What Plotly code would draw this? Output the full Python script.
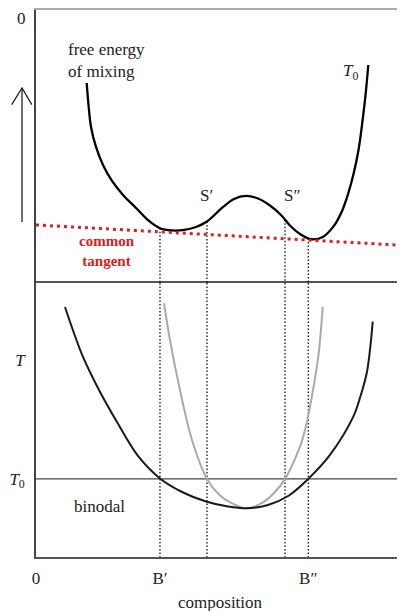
import plotly.graph_objects as go

# composition axis runs 0..1, free energy (top) -1..0, temperature (bottom) 0..1
energy_c = [0.1374, 0.1423, 0.1491, 0.1626, 0.1816, 0.2060, 0.2358, 0.2710, 0.3062, 0.3360,
            0.3686, 0.4011, 0.4336, 0.4634, 0.5041, 0.5366, 0.5691, 0.6016, 0.6341, 0.6640,
            0.6883, 0.7154, 0.7472, 0.7786, 0.8057, 0.8285, 0.8463, 0.8618, 0.8740, 0.8835,
            0.8916, 0.8970, 0.9005]
energy_g = [-0.2674, -0.3480, -0.4286, -0.5018, -0.5678, -0.6264, -0.6777, -0.7253, -0.7729, -0.7996,
            -0.8077, -0.8059, -0.7949, -0.7747, -0.7253, -0.6923, -0.6813, -0.6905, -0.7161, -0.7509,
            -0.7894, -0.8205, -0.8399, -0.8304, -0.7938, -0.7388, -0.6714, -0.5934, -0.5128, -0.4212,
            -0.3297, -0.2564, -0.2015]

tangent_c = [0.0, 1.0]
tangent_g = [-0.7875, -0.8626]

binodal_c = [0.0786, 0.1274, 0.1707, 0.2195, 0.2764, 0.3360, 0.3957, 0.4607, 0.5203,
             0.5710, 0.6287, 0.6856, 0.7380, 0.7967, 0.8599, 0.8795, 0.8962, 0.9060, 0.9125]
binodal_t = [0.9124, 0.7299, 0.6095, 0.4927, 0.3686, 0.2865, 0.2372, 0.2025, 0.1843,
             0.1777, 0.1898, 0.2245, 0.2850, 0.3723, 0.5120, 0.5876, 0.6704, 0.7664, 0.8588]

spinodal_c = [0.3469, 0.3631, 0.3902, 0.4228, 0.4634, 0.4959, 0.5285, 0.5710, 0.6125,
              0.6450, 0.6748, 0.7154, 0.7304, 0.7425, 0.7650, 0.7770]
spinodal_t = [0.9259, 0.7920, 0.6095, 0.4270, 0.2850, 0.2281, 0.1971, 0.1777, 0.1971,
              0.2336, 0.2850, 0.4026, 0.4708, 0.5485, 0.7310, 0.9135]

T0 = 0.285
mark_c = [0.336, 0.4634, 0.6748, 0.738]      # B', S', S'', B''
mark_g = [-0.800, -0.7747, -0.768, -0.837]

xtick_vals = [0.0, 0.336, 0.738]
xtick_text = ["0", "B\u2032", "B\u2033"]
ttick_vals = [0.719, T0]
ttick_text = ["<i>T</i>", "<i>T</i><sub>0</sub>"]

serif = "Liberation Serif"
fig = go.Figure()

# dotted verticals, top part and bottom part
for c, g in zip(mark_c, mark_g):
    fig.add_trace(go.Scatter(x=[c, c], y=[g, -1], xaxis="x2", yaxis="y2", mode="lines",
                             line=dict(color="#111", width=1.3, dash="1.5px,2px")))
    fig.add_trace(go.Scatter(x=[c, c], y=[1, 0], xaxis="x", yaxis="y", mode="lines",
                             line=dict(color="#111", width=1.3, dash="1.5px,2px")))

fig.add_trace(go.Scatter(x=energy_c, y=energy_g, xaxis="x2", yaxis="y2", mode="lines",
                         line=dict(color="black", width=2.3, shape="spline", smoothing=1)))
fig.add_trace(go.Scatter(x=tangent_c, y=tangent_g, xaxis="x2", yaxis="y2", mode="lines",
                         line=dict(color="#d9201f", width=3, dash="3px,4px")))

fig.add_trace(go.Scatter(x=[0, 1], y=[T0, T0], mode="lines",
                         line=dict(color="#444", width=1.4)))
fig.add_trace(go.Scatter(x=spinodal_c, y=spinodal_t, mode="lines",
                         line=dict(color="#aaaaaa", width=2, shape="spline", smoothing=1)))
fig.add_trace(go.Scatter(x=binodal_c, y=binodal_t, mode="lines",
                         line=dict(color="#1a1a1a", width=2, shape="spline", smoothing=1)))

# page body adds 8px, so the figure is drawn 8px smaller
split = 0.501
fig.update_layout(
    width=397, height=603,
    margin=dict(l=28, r=0, t=2, b=54),
    paper_bgcolor="white", plot_bgcolor="white",
    showlegend=False,
    font=dict(family=serif, size=17, color="#222"),
    xaxis=dict(range=[0, 1], domain=[0, 1], anchor="y", showgrid=False, zeroline=False,
               automargin=False,
               showline=True, linecolor="#555", linewidth=1.6, mirror=True,
               tickvals=xtick_vals, ticktext=xtick_text, ticks="", ticklabelstandoff=5,
               tickfont=dict(size=17, family=serif, color="#222")),
    yaxis=dict(range=[0, 1], domain=[0, split], anchor="x", showgrid=False, zeroline=False,
               automargin=False,
               showline=True, linecolor="#444", linewidth=1.6,
               tickvals=ttick_vals, ticktext=ttick_text, ticks="", ticklabelstandoff=6,
               tickfont=dict(size=17, family=serif, color="#222")),
    xaxis2=dict(range=[0, 1], domain=[0, 1], anchor="y2", side="top", showgrid=False,
                zeroline=False, showline=True, linecolor="#aaaaaa", linewidth=2,
                automargin=False, showticklabels=False, ticks=""),
    yaxis2=dict(range=[-1, 0], domain=[split, 1], anchor="x2", showgrid=False, zeroline=False,
                automargin=False, showline=True, linecolor="#444", linewidth=1.6,
                showticklabels=False, ticks=""),
)

annotations = [
    dict(x=-0.038, y=1, xref="paper", yref="paper", yshift=-8, text="0",
         xanchor="center", yanchor="middle", showarrow=False, font=dict(size=17)),
    dict(x=0.081, y=-0.185, xref="x2", yref="y2", text="free energy<br>of mixing",
         xanchor="left", showarrow=False, align="left", font=dict(size=17)),
    dict(x=0.851, y=-0.227, xref="x2", yref="y2", text="<i>T</i><sub>0</sub>",
         showarrow=False, font=dict(size=17)),
    dict(x=0.461, y=-0.681, xref="x2", yref="y2", text="S\u2032",
         showarrow=False, font=dict(size=17)),
    dict(x=0.694, y=-0.681, xref="x2", yref="y2", text="S\u2033",
         showarrow=False, font=dict(size=17)),
    dict(x=0.192, y=-0.883, xref="x2", yref="y2", text="<b>common<br>tangent</b>",
         showarrow=False, font=dict(size=15, color="#d9201f")),
    dict(x=0.173, y=0.186, xref="x", yref="y", text="binodal",
         showarrow=False, font=dict(size=17)),
    dict(x=0.5, y=0, xref="paper", yref="paper", yshift=-45, text="composition",
         xanchor="center", yanchor="middle", showarrow=False, font=dict(size=17)),
]
fig.update_layout(annotations=annotations)

# upward arrow at the left of the free-energy panel
fig.add_shape(type="line", xref="paper", yref="paper", x0=-0.0379, x1=-0.0379,
              y0=0.6124, y1=0.8574, line=dict(color="#222", width=1.3))
fig.add_shape(type="path", xref="paper", yref="paper",
              path="M -0.0659 0.8269 L -0.0379 0.8574 L -0.0114 0.8269",
              line=dict(color="#222", width=1.3))

fig.write_html("out.html")
